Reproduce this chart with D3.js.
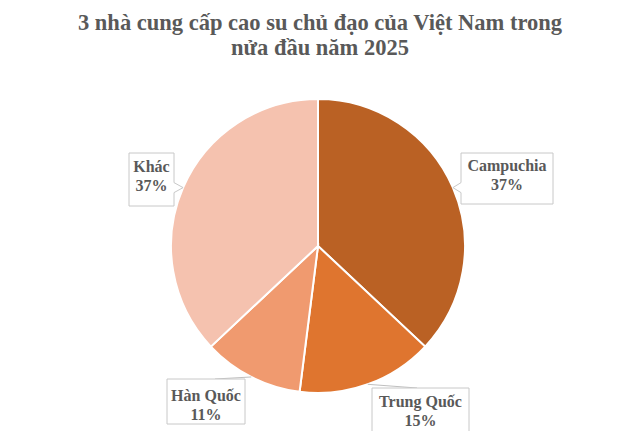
<!DOCTYPE html>
<html>
<head>
<meta charset="utf-8">
<script src="https://cdn.jsdelivr.net/npm/d3@7"></script>
<style>
  body { margin: 0; background: #fff; }
  svg { display: block; }
  text { font-family: "Liberation Serif", "Times New Roman", serif; font-weight: bold; fill: #595959; }
</style>
</head>
<body>
<div id="chart"></div>
<script>
const titleLines = ['3 nhà cung cấp cao su chủ đạo của Việt Nam trong', 'nửa đầu năm 2025'];
const categories = ['Campuchia', 'Trung Quốc', 'Hàn Quốc', 'Khác'];
const values = [37, 15, 11, 37];
const colors = ['#ba6124', '#df752f', '#f09a6f', '#f5c2af'];

// label boxes: left/top, size, first baseline offset, and how they attach
const labelLayout = [
  { x: 461, y: 153, w: 92, h: 51, ty: 18, kind: 'pointer-left' },
  { x: 372, y: 388, w: 97, h: 48, ty: 19, kind: 'leader', lx: 45 },
  { x: 167, y: 379, w: 78, h: 45, ty: 22, kind: 'leader', lx: 48 },
  { x: 129, y: 153, w: 45, h: 53, ty: 19, kind: 'pointer-right' }
];

const width = 640, height = 431;
const cx = 318, cy = 246, radius = 147;

const svg = d3.select('#chart').append('svg')
  .attr('width', width)
  .attr('height', height);

svg.append('g').selectAll('text')
  .data(titleLines)
  .enter()
  .append('text')
  .attr('x', width / 2)
  .attr('y', (d, i) => 30 + i * 25)
  .attr('text-anchor', 'middle')
  .style('font-size', '22.5px')
  .text(d => d);

const data = categories.map((c, i) => ({ name: c, value: values[i], color: colors[i], layout: labelLayout[i] }));

const pie = d3.pie().sort(null).value(d => d.value);
const arc = d3.arc().innerRadius(0).outerRadius(radius);
const edge = d3.arc().innerRadius(radius).outerRadius(radius);
const arcs = pie(data);

const g = svg.append('g').attr('transform', `translate(${cx},${cy})`);

g.selectAll('path.slice')
  .data(arcs)
  .enter()
  .append('path')
  .attr('class', 'slice')
  .attr('d', arc)
  .attr('fill', d => d.data.color)
  .attr('stroke', '#fff')
  .attr('stroke-width', 2);

// labels
const labels = svg.append('g');
arcs.forEach(a => {
  const L = a.data.layout;
  const [ex, ey] = edge.centroid(a);
  const tipX = cx + ex, tipY = cy + ey;
  const x0 = L.x, x1 = L.x + L.w;
  const y0 = L.y, y1 = L.y + L.h;
  let pts;
  if (L.kind === 'pointer-left') {
    pts = [[x0, y0], [x1, y0], [x1, y1], [x0, y1], [x0, tipY + 5], [tipX, tipY], [x0, tipY - 5]];
  } else if (L.kind === 'pointer-right') {
    pts = [[x0, y0], [x1, y0], [x1, tipY - 5], [tipX, tipY], [x1, tipY + 5], [x1, y1], [x0, y1]];
  } else {
    pts = [[x0, y0], [x1, y0], [x1, y1], [x0, y1]];
    labels.append('line')
      .attr('x1', tipX).attr('y1', tipY)
      .attr('x2', x0 + L.lx).attr('y2', y0)
      .attr('stroke', '#bfbfbf')
      .attr('stroke-width', 1);
  }
  labels.append('path')
    .attr('d', d3.line()(pts) + 'Z')
    .attr('fill', '#fff')
    .attr('stroke', '#c8c8c8')
    .attr('stroke-width', 1);
  const mx = x0 + L.w / 2;
  const t = labels.append('text')
    .attr('text-anchor', 'middle')
    .style('font-size', '16px');
  t.append('tspan').attr('x', mx).attr('y', y0 + L.ty).text(a.data.name);
  t.append('tspan').attr('x', mx).attr('y', y0 + L.ty + 18.5).text(a.data.value + '%');
});
</script>
</body>
</html>
